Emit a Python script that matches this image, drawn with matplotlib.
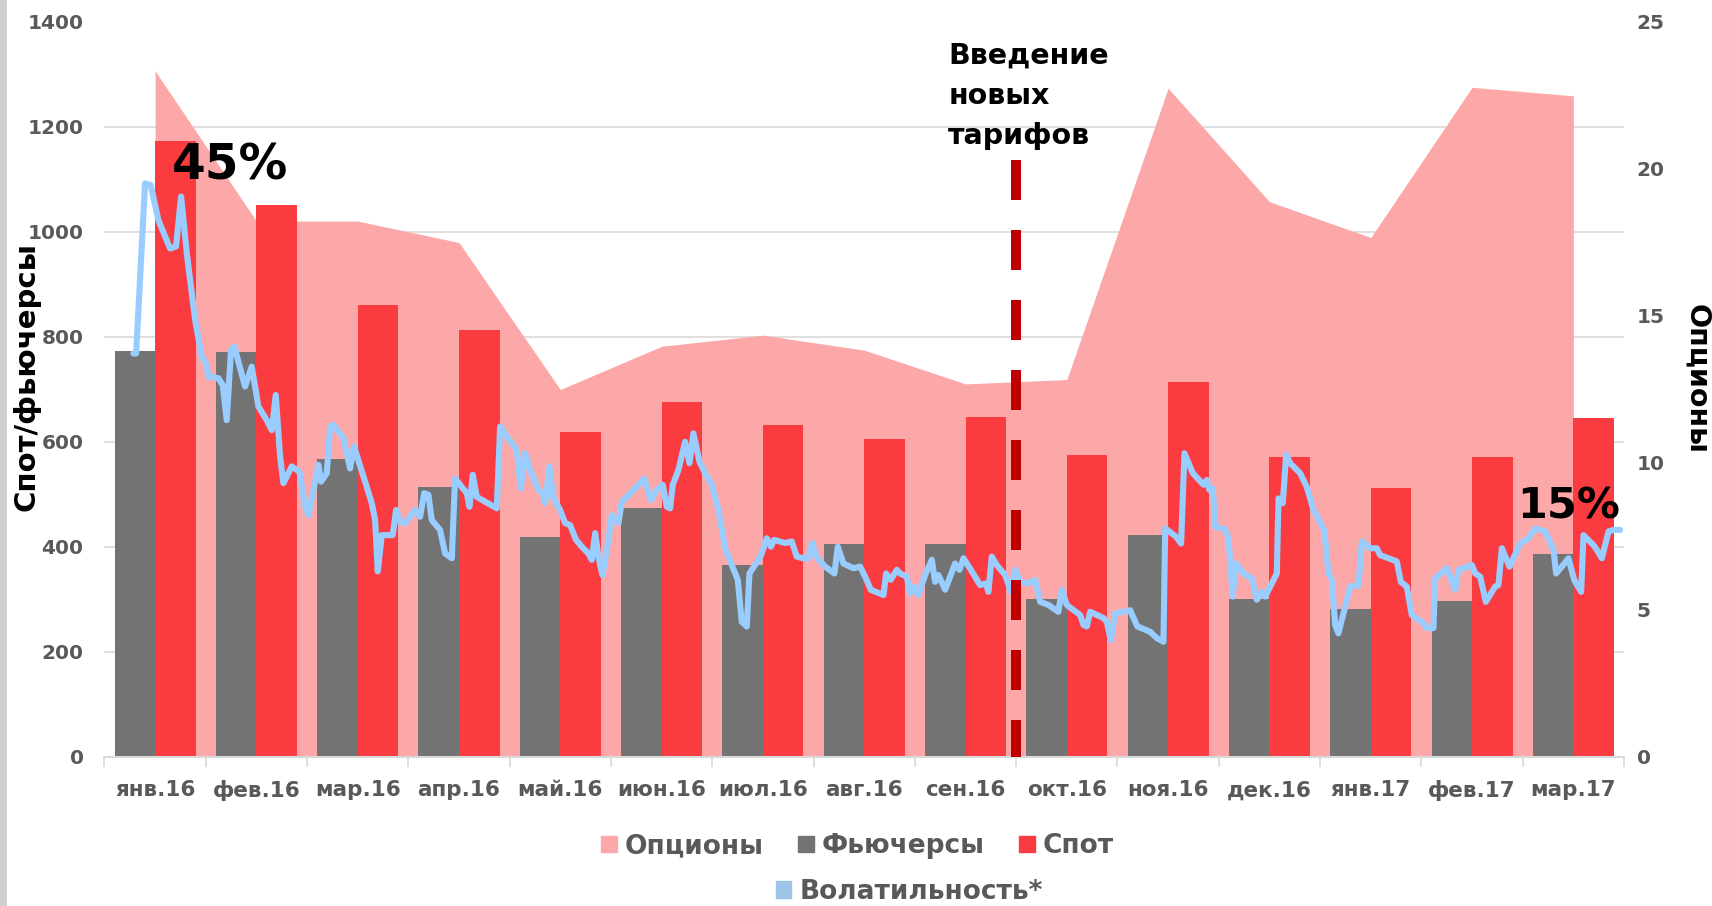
import matplotlib
matplotlib.use('Agg')
import matplotlib.pyplot as plt
from matplotlib.patches import Patch, Rectangle
from matplotlib.ticker import MultipleLocator, FixedLocator
import numpy as np

plt.rcParams['font.family'] = 'DejaVu Sans'
plt.rcParams['font.weight'] = 'bold'

months = ['янв.16', 'фев.16', 'мар.16', 'апр.16', 'май.16', 'июн.16', 'июл.16', 'авг.16',
          'сен.16', 'окт.16', 'ноя.16', 'дек.16', 'янв.17', 'фев.17', 'мар.17']
options = [23.33, 18.22, 18.22, 17.49, 12.49, 13.96, 14.34, 13.83, 12.68, 12.83,
           22.74, 18.88, 17.66, 22.77, 22.48]
futures = [773, 770, 568, 514, 419, 473, 366, 406, 405, 301, 422, 301, 282, 297, 387]
spot = [1172, 1051, 860, 813, 618, 676, 632, 605, 648, 575, 714, 571, 512, 570, 645]

# volatility series, position in month index (янв.16 = 0), value on left scale
vol_pos = [-0.214, -0.187, -0.099, -0.043, 0.033, 0.148, 0.207, 0.257, 0.313, 0.395, 0.461, 0.504,
           0.527, 0.625, 0.668, 0.707, 0.750, 0.783, 0.888, 0.954, 1.020, 1.102, 1.152, 1.191,
           1.234, 1.267, 1.349, 1.425, 1.481, 1.514, 1.612, 1.639, 1.695, 1.728, 1.760, 1.859,
           1.925, 1.964, 2.073, 2.139, 2.172, 2.198, 2.238, 2.346, 2.379, 2.419, 2.468, 2.567,
           2.616, 2.656, 2.698, 2.731, 2.813, 2.863, 2.929, 2.961, 3.077, 3.103, 3.136, 3.175,
           3.373, 3.406,
           3.472, 3.570, 3.610, 3.652, 3.702, 3.784, 3.827, 3.850, 3.893, 3.926, 3.998, 4.047,
           4.097, 4.156, 4.212, 4.278, 4.311, 4.344, 4.376, 4.416, 4.459, 4.508, 4.574, 4.607,
           4.656, 4.788, 4.827, 4.893, 4.952, 5.011, 5.051, 5.084, 5.110, 5.166, 5.232, 5.275,
           5.314, 5.374, 5.430, 5.495, 5.561, 5.627, 5.693, 5.752, 5.791, 5.841, 5.867, 5.956,
           5.989, 6.038, 6.078, 6.111, 6.219, 6.285, 6.334, 6.400, 6.450, 6.489, 6.525, 6.614,
           6.706, 6.739, 6.795, 6.894, 6.960, 7.009, 7.065, 7.190, 7.216, 7.262, 7.322, 7.355,
           7.420, 7.453, 7.493, 7.535, 7.601, 7.667, 7.700, 7.733, 7.799, 7.897, 7.940, 7.980,
           8.062, 8.144, 8.203, 8.226, 8.259, 8.309, 8.391, 8.450, 8.490, 8.539, 8.621, 8.687,
           8.737, 8.819, 8.917, 8.950, 9.000, 9.131, 9.164, 9.197, 9.230, 9.362, 9.395, 9.434,
           9.477, 9.625, 9.697, 9.822, 9.888, 9.954, 9.971, 10.079, 10.128, 10.161, 10.244,
           10.349, 10.382, 10.408, 10.441, 10.464, 10.563, 10.596, 10.638, 10.671, 10.744,
           10.826, 10.875, 10.925, 10.958, 11.073, 11.089, 11.132, 11.165, 11.205, 11.303,
           11.369, 11.435, 11.540, 11.583, 11.616, 11.649, 11.681, 11.797, 11.879, 11.912,
           11.994, 12.060, 12.093, 12.257, 12.297, 12.356, 12.405, 12.521, 12.554, 12.619,
           12.636, 12.751, 12.833, 12.866, 12.998, 13.031, 13.080, 13.136, 13.228, 13.261,
           13.294, 13.370, 13.475, 13.557, 13.623, 13.722, 13.804, 13.830, 13.886, 13.952,
           14.008, 14.077, 14.100, 14.199, 14.232, 14.281, 14.347, 14.396, 14.462]
vol_val = [768, 768, 1092, 1089, 1022, 968, 972, 1067, 959, 832, 762, 749,
           724, 721, 708, 641, 775, 781, 705, 743, 667, 641, 622, 689,
           572, 521, 553, 543, 476, 460, 556, 524, 540, 629, 632, 607,
           549, 591, 524, 483, 451, 353, 422, 422, 470, 448, 445, 470,
           457, 502, 499, 451, 432, 387, 378, 530, 502, 476, 537, 495,
           473, 629,
           610, 584, 511, 578, 546, 508, 502, 483, 553, 495, 470, 445,
           441, 413, 400, 387, 375, 426, 381, 346, 394, 460, 445, 486,
           495, 521, 530, 489, 508, 518, 476, 473, 518, 546, 600, 559,
           616, 562, 540, 518, 470, 397, 365, 337, 257, 248, 349, 375,
           387, 416, 400, 413, 407, 410, 381, 378, 378, 407, 381, 362,
           349, 400, 368, 359, 362, 343, 318, 308, 349, 337, 356, 349,
           343, 311, 324, 308, 346, 375, 333, 346, 318, 368, 356, 378,
           353, 327, 330, 314, 381, 365, 346, 314, 356, 333, 330, 337,
           295, 289, 276, 318, 289, 270, 251, 248, 276, 264, 257, 222,
           273, 279, 248, 238, 226, 219, 435, 419, 406, 578, 540,
           518, 527, 508, 511, 438, 433, 416, 305, 368, 349,
           340, 299, 314, 305, 349, 492, 483, 575, 559, 540,
           514, 470, 432, 349, 337, 251, 235, 324, 327, 410,
           397, 397, 384, 372, 333, 324, 270, 254, 245, 245,
           340, 359, 318, 356, 365, 349, 343, 295, 324, 327,
           397, 362, 406, 416, 435, 429, 394, 349, 362, 378,
           337, 314, 422, 403, 394, 378, 429, 432, 432]

c_opt = '#FCA8A9'
c_fut = '#737373'
c_spot = '#FA3C40'
c_vol = '#99CCFF'
c_txt = '#595959'
c_grid = '#D9D9D9'

fig = plt.figure(figsize=(17.12, 9.06), dpi=100)
ax = fig.add_axes([0.061, 0.1648, 0.8876, 0.8112])
ax2 = ax.twinx()
ax.set_zorder(ax2.get_zorder() + 1)
ax.patch.set_visible(False)

x = np.arange(len(months))

# options area on the right axis, grid lines below it
ax2.fill_between(x, 0, options, color=c_opt, lw=0, zorder=2)
ax2.set_ylim(0, 25)
ax2.yaxis.set_major_locator(MultipleLocator(5))
ax2.yaxis.set_minor_locator(FixedLocator(np.linspace(0, 25, 8)))
ax2.grid(which='minor', axis='y', color=c_grid, lw=1.2, zorder=0)
ax2.set_axisbelow(True)
ax2.tick_params(axis='y', which='both', length=0, pad=9, labelsize=14.5, labelcolor=c_txt)
ax2.set_ylabel('Опционы', fontsize=20.5, rotation=-90, color='black', fontweight='bold')
ax2.yaxis.set_label_coords(1.057, 0.514)

# bars
w = 0.4
ax.bar(x - w / 2, futures, width=w, color=c_fut, zorder=2)
ax.bar(x + w / 2, spot, width=w, color=c_spot, zorder=2)

# dashed marker for new tariffs
ax.plot([8.5, 8.5], [1136, 0], color='#C00000', lw=7.2, ls=(0, (4, 3)),
        dash_capstyle='butt', zorder=6)
ax.text(7.83, 1362, 'Введение\nновых\nтарифов', fontsize=20.5, fontweight='bold',
        color='black', va='top', ha='left', linespacing=1.55, zorder=7)

# volatility
ax.plot(vol_pos, vol_val, color=c_vol, lw=4.4, solid_joinstyle='round',
        solid_capstyle='round', zorder=5)
ax.text(0.17, 1127, '45%', fontsize=35, fontweight='bold', color='black',
        va='center', ha='left', zorder=7)
ax.text(13.45, 476, '15%', fontsize=31, fontweight='bold', color='black',
        va='center', ha='left', zorder=7)

ax.set_xlim(-0.5, len(months) - 0.5)
ax.set_ylim(0, 1400)
ax.set_yticks(range(0, 1401, 200))
ax.tick_params(axis='y', length=0, pad=15, labelsize=14.5, labelcolor=c_txt)
ax.set_ylabel('Спот/фьючерсы', fontsize=21, color='black', fontweight='bold')
ax.yaxis.set_label_coords(-0.0424, 0.5167)

ax.set_xticks(np.arange(-0.5, len(months), 1.0))
ax.set_xticklabels([])
ax.set_xticks(x, minor=True)
ax.set_xticklabels(months, minor=True)
ax.tick_params(axis='x', which='major', length=7, width=1.2, color=c_grid)
ax.tick_params(axis='x', which='minor', length=0, pad=17, labelsize=15.5, labelcolor=c_txt)

for a in (ax, ax2):
    for s in a.spines.values():
        s.set_visible(False)
ax.spines['bottom'].set_visible(True)
ax.spines['bottom'].set_color(c_grid)
ax.spines['bottom'].set_linewidth(1.5)

# legend
h1 = [Patch(color=c_opt, label='Опционы'),
      Patch(color=c_fut, label='Фьючерсы'),
      Patch(color=c_spot, label='Спот')]
fig.legend(handles=h1, loc='center', bbox_to_anchor=(0.501, 0.066), ncol=3,
           frameon=False, fontsize=19, handlelength=0.6, handleheight=0.6,
           handletextpad=0.3, columnspacing=1.3, labelcolor=c_txt)
h2 = [Patch(color='#9DC3E6', label='Волатильность*')]
fig.legend(handles=h2, loc='center', bbox_to_anchor=(0.531, 0.0155), frameon=False,
           fontsize=19, handlelength=0.6, handleheight=0.6, handletextpad=0.3,
           labelcolor=c_txt)

fig.add_artist(Rectangle((0, 0), 0.0038, 1, transform=fig.transFigure,
                         color='#CFCFCF', lw=0))

fig.savefig('out.png', dpi=100)
